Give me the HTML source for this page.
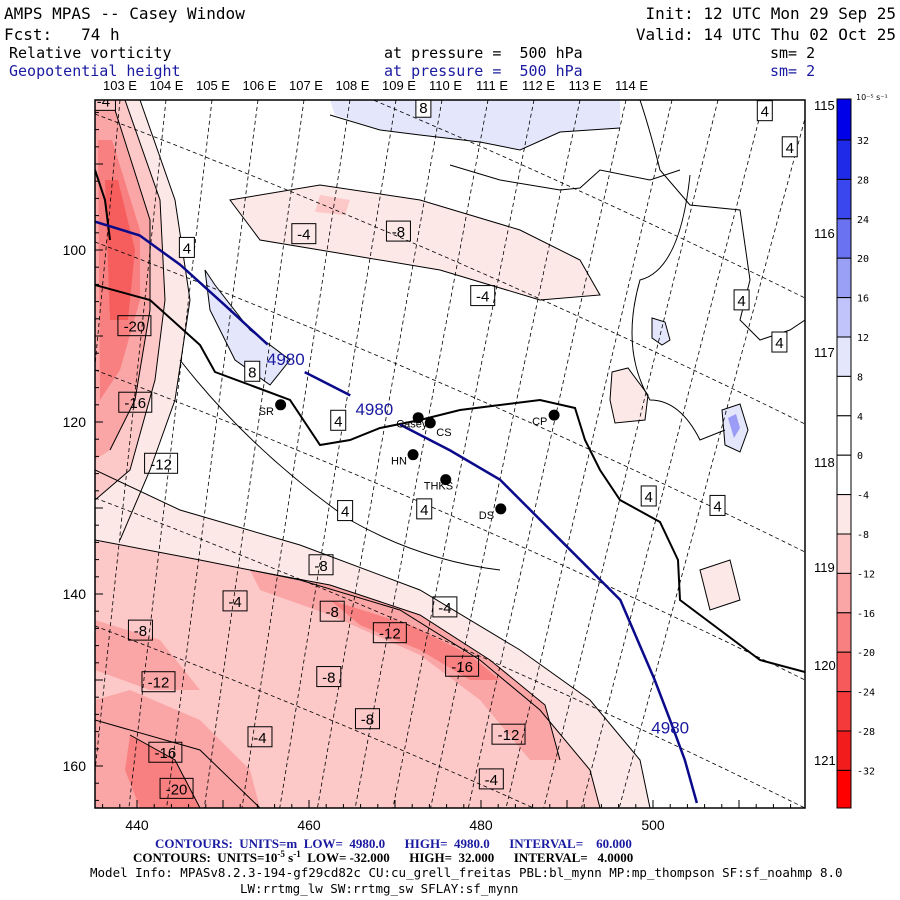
<!DOCTYPE html>
<html><head><meta charset="utf-8"><style>
html,body{margin:0;padding:0;background:#fff;}
svg{display:block;font-family:"DejaVu Sans Mono","Liberation Mono",monospace;}
svg text{white-space:pre;}
.hd{font-family:"DejaVu Sans Mono","Liberation Mono",monospace;font-size:16px;}
.lbl{font-size:15px;font-family:"Liberation Sans",sans-serif;}
</style></head><body>
<svg id="chart" width="900" height="900" viewBox="0 0 900 900">
<defs><clipPath id="plotclip"><rect x="95" y="100" width="710" height="708"/></clipPath></defs>
<g>
<text class="hd" x="4" y="19">AMPS MPAS -- Casey Window</text>
<text class="hd" x="4" y="40">Fcst:   74 h</text>
<text class="hd" x="896" y="19" text-anchor="end">Init: 12 UTC Mon 29 Sep 25</text>
<text class="hd" x="896" y="40" text-anchor="end">Valid: 14 UTC Thu 02 Oct 25</text>
<text class="hd" x="9" y="58" style="font-size:15px">Relative vorticity</text>
<text class="hd" x="384" y="58" style="font-size:15px">at pressure =  500 hPa</text>
<text class="hd" x="770" y="58" style="font-size:15px">sm= 2</text>
<text class="hd" x="9" y="76" style="font-size:15px" fill="#1a1aa0">Geopotential height</text>
<text class="hd" x="384" y="76" style="font-size:15px" fill="#1a1aa0">at pressure =  500 hPa</text>
<text class="hd" x="770" y="76" style="font-size:15px" fill="#1a1aa0">sm= 2</text>
</g>
<g id="toplon"></g>
<g clip-path="url(#plotclip)">
<g>
<path d="M95,470 L180,510 L300,545 L420,590 L520,650 L590,700 L640,760 L650,808 L95,808 Z" fill="#fde8e8"/>
<path d="M95,540 L200,560 L300,580 L400,610 L480,660 L540,710 L590,770 L600,808 L95,808 Z" fill="#fcc8c8"/>
<path d="M250,570 L330,585 L420,615 L490,660 L545,705 L560,760 L530,760 L480,700 L420,655 L330,615 L260,590 Z" fill="#fba6a6"/>
<path d="M330,600 L410,625 L470,655 L500,680 L470,680 L420,650 L360,625 Z" fill="#f98080"/>
<path d="M95,700 L130,690 L200,720 L250,770 L260,808 L95,808 Z" fill="#fba6a6"/>
<path d="M130,735 L175,760 L200,808 L140,808 L125,770 Z" fill="#f98080"/>
<path d="M95,620 L160,640 L200,690 L150,690 L95,670 Z" fill="#fba6a6"/>
<path d="M95,100 L140,100 L175,200 L190,300 L175,400 L150,470 L120,540 L95,540 Z" fill="#fde8e8"/>
<path d="M95,100 L125,100 L160,200 L165,300 L155,380 L130,470 L95,500 Z" fill="#fcc8c8"/>
<path d="M95,110 L115,110 L150,220 L150,310 L135,400 L110,450 L95,460 Z" fill="#fba6a6"/>
<path d="M98,140 L112,140 L140,230 L140,300 L120,370 L100,400 Z" fill="#f98080"/>
<path d="M105,180 L118,180 L135,250 L128,320 L110,320 Z" fill="#f65e5e"/>
<path d="M230,200 L320,185 L420,200 L520,230 L580,260 L600,295 L540,300 L440,270 L350,255 L260,240 Z" fill="#fde8e8"/>
<path d="M320,195 L350,200 L345,215 L315,212 Z" fill="#fcc8c8"/>
<path d="M612,372 L628,368 L648,395 L645,420 L615,423 L610,400 Z" fill="#fde8e8"/>
<path d="M700,570 L730,560 L740,600 L710,610 Z" fill="#fde8e8"/>
<path d="M330,100 L620,100 L620,128 L560,132 L520,150 L480,142 L420,135 L380,130 L335,115 Z" fill="#e4e6fb"/>
<path d="M205,270 L215,285 L250,330 L290,360 L270,385 L235,360 L210,310 Z" fill="#e4e6fb"/>
<path d="M652,318 L665,322 L670,340 L662,345 L652,338 Z" fill="#e4e6fb"/>
<path d="M722,410 L740,404 L748,430 L740,452 L725,445 Z" fill="#e4e6fb"/>
<path d="M728,418 L736,414 L740,428 L734,438 Z" fill="#9a9cf5"/>
</g>
<g fill="none" stroke="#000" stroke-width="1">
<path d="M95,470 L180,510 L300,545 L420,590 L520,650 L590,700 L640,760 L650,808"/>
<path d="M95,540 L200,560 L300,580 L400,610 L480,660 L540,710 L590,770 L600,808"/>
<path d="M250,570 L330,585 L420,615 L490,660 L545,705 L560,760"/>
<path d="M140,100 L175,200 L190,300 L175,400 L150,470 L120,540"/>
<path d="M125,100 L160,200 L165,300 L155,380 L130,470 L95,500"/>
<path d="M115,110 L150,220 L150,310 L135,400 L110,450"/>
<path d="M230,200 L320,185 L420,200 L520,230 L580,260 L600,295 L540,300 L440,270 L350,255 L260,240 Z"/>
<path d="M612,372 L628,368 L648,395 L645,420 L615,423 L610,400 Z"/>
<path d="M700,570 L730,560 L740,600 L710,610 Z"/>
<path d="M205,270 L215,285 L250,330 L290,360 L270,385 L235,360 L210,310 Z"/>
<path d="M330,115 L380,130 L420,135 L480,142 L520,150 L560,132 L620,128"/>
<path d="M450,165 L500,180 L560,190 L580,188 L600,170 L650,180 L680,170"/>
<path d="M640,100 Q650,130 660,170 L690,205 L740,210 L750,280 L740,320 L760,340 L790,330 L805,320"/>
<path d="M690,175 Q680,270 640,280 Q620,350 650,400 Q680,400 700,440 L725,430"/>
<path d="M180,360 Q250,450 350,520 Q420,560 500,570"/>
<path d="M95,720 L200,750 L260,808"/>
<path d="M130,735 L175,760 L200,808"/>
<path d="M722,410 L740,404 L748,430 L740,452 L725,445 Z"/>
<path d="M652,318 L665,322 L670,340 L662,345 L652,338 Z"/>
</g>
<g id="grid" fill="none" stroke="#000" stroke-width="0.8" stroke-dasharray="4,3"></g>
<path fill="none" stroke="#000" stroke-width="2" d="M95,285 L150,300 L200,345 L215,372 L250,385 L290,400 L320,445 L350,440 L380,428 L420,420 L460,410 L500,405 L540,400 L575,408 L585,440 L600,470 L620,500 L660,522 L678,560 L680,600 L720,630 L760,660 L805,672"/>
<path fill="none" stroke="#000" stroke-width="2" d="M95,170 L105,200 L110,240"/>
<g id="geo"></g>
<g id="stations"></g>
<g id="clabels"></g>
</g>
<rect x="95" y="100" width="710" height="708" fill="none" stroke="#000" stroke-width="1.5"/>
<g id="xaxis"></g>
<g id="yaxis"></g>
<g id="rlon"></g>
<g id="cbar"></g>
<g font-family="Liberation Serif, serif" font-size="13" font-weight="bold">
<text x="155" y="848" fill="#1a1aa0">CONTOURS:  UNITS=m  LOW=  4980.0      HIGH=  4980.0      INTERVAL=    60.000</text>
<text x="133" y="862" fill="#000">CONTOURS:  UNITS=10<tspan font-size="9" dy="-5">-5</tspan><tspan dy="5"> s</tspan><tspan font-size="9" dy="-5">-1</tspan><tspan dy="5">  LOW= -32.000      HIGH=  32.000      INTERVAL=   4.0000</tspan></text>
</g>
<text x="90" y="877" font-size="12.5" font-family="DejaVu Sans Mono, monospace">Model Info: MPASv8.2.3-194-gf29cd82c CU:cu_grell_freitas PBL:bl_mynn MP:mp_thompson SF:sf_noahmp 8.0</text>
<text x="240" y="893" font-size="12.5" font-family="DejaVu Sans Mono, monospace">LW:rrtmg_lw SW:rrtmg_sw SFLAY:sf_mynn</text>
</svg>
<script>
const xTicks=[440,460,480,500];
const yTicks=[100,120,140,160];
const geoX=[435.1,440.3,445.0,450.2,455.2,null,459.5,464.8,null,470.6,476.4,482.2,489.2,496.2,500.2,502.0,503.7,505.1];
const geoY=[96.7,98.3,101.7,106.4,111.0,null,114.2,116.9,null,120.3,123.3,126.7,133.7,140.7,150.0,154.7,159.3,164.3];
const geoLabelX=[457.3,467.6,502.0];
const geoLabelY=[112.7,118.5,155.5];
const stationNames=["SR","Casey","CS","HN","THKS","DS","CP"];
const stationX=[456.7,472.7,474.1,472.1,475.9,482.3,488.5];
const stationY=[118.0,119.5,120.1,123.8,126.7,130.1,119.2];
const cLevels=[32,28,24,20,16,12,8,4,0,-4,-8,-12,-16,-20,-24,-28,-32];
const cColors=["#0000e8","#1e2ae8","#3a46ee","#6a72f2","#9aa0f5","#c0c4fa","#e4e6fb","#fff","#fff","#fff","#fde8e8","#fcc8c8","#fba6a6","#f98080","#f65a5a","#f43a3a","#f21c1c","#ff0000"];
const labVals=[-4,4,8,4,4,-4,-8,4,-4,4,-20,4,8,-16,4,-12,4,4,4,4,-8,-4,-8,-4,-8,-12,-16,-8,-12,-8,-12,-4,-16,-4,-20];
const labX=[436.1,454.5,473.3,513.0,515.9,459.4,470.4,445.8,480.2,510.3,439.7,514.7,453.4,439.8,463.4,442.8,499.5,507.5,464.2,473.4,461.4,451.4,462.7,475.8,440.4,469.4,477.8,462.3,442.5,466.8,483.2,454.3,443.3,481.2,444.6];
const labY=[82.6,81.0,83.4,83.8,88.0,98.1,97.8,99.7,105.3,105.8,108.8,110.7,114.1,117.7,119.8,124.8,128.6,129.7,130.3,130.1,136.6,140.8,142.0,141.5,144.2,144.5,148.4,149.6,150.2,154.5,156.3,156.6,158.4,161.5,162.6];
function X(v){return 137+(v-440)*8.6;}
function Y(v){return 250+(v-100)*8.6;}
const NS="http://www.w3.org/2000/svg";
function mk(tag,attrs,parent,txt){const e=document.createElementNS(NS,tag);for(const k in attrs)e.setAttribute(k,attrs[k]);if(txt!==undefined)e.textContent=txt;parent.appendChild(e);return e;}
const grid=document.getElementById('grid');
for(let i=0;i<16;i++){const xt=120+i*46;const l=mk('line',{x1:xt,y1:100,x2:xt*0.82-45,y2:808},grid);

}
const latStart=[-12,114,242,370,498,626];
latStart.forEach(y0=>{const l=mk('path',{d:`M95,${y0} Q450,${y0+135} 805,${y0+310}`},grid);

});
const tl=document.getElementById('toplon');
for(let i=0;i<12;i++){const t=mk('text',{x:120+i*46.5,y:90,'font-size':'13','text-anchor':'middle','font-family':'Liberation Sans, sans-serif'},tl,(103+i)+' E');

}
const geo=document.getElementById('geo');
let segs=[],cur=[];
for(let i=0;i<geoX.length;i++){if(geoX[i]===null){segs.push(cur);cur=[];}else cur.push(X(geoX[i])+','+Y(geoY[i]));}
segs.push(cur);
segs.forEach(s=>{const p=mk('polyline',{points:s.join(' '),fill:'none',stroke:'#0a0a8a','stroke-width':'2.5'},geo);

});
geoLabelX.forEach((v,i)=>{const t=mk('text',{x:X(v),y:Y(geoLabelY[i])+6,'font-size':'17','text-anchor':'middle',fill:'#1a1aa0','font-family':'Liberation Sans, sans-serif'},geo,'4980');

});
const st=document.getElementById('stations');
stationNames.forEach((n,i)=>{const g=mk('g',{},st);


mk('circle',{cx:X(stationX[i]),cy:Y(stationY[i]),r:5.5,fill:'#000'},g);
mk('text',{x:X(stationX[i])-(n==='CS'?-6:22),y:Y(stationY[i])+(n==='CS'?13:10),'font-size':'11','font-family':'Liberation Sans, sans-serif'},g,n);});
const cl=document.getElementById('clabels');
labVals.forEach((v,i)=>{const s=String(v);const w=s.length*9+6;const cx=X(labX[i]),cy=Y(labY[i]);
const g=mk('g',{},cl);


mk('rect',{x:cx-w/2,y:cy-10,width:w,height:20,fill:v<0?'none':'#fff',stroke:'#000','stroke-width':'1'},g);
mk('text',{x:cx,y:cy+6,'text-anchor':'middle','class':'lbl'},g,s);});
const xa=document.getElementById('xaxis');
for(let v=436;v<=516;v+=2){const l=mk('line',{x1:X(v),y1:808,x2:X(v),y2:v%10===0?800:804,stroke:'#000'},xa);
}
xTicks.forEach(v=>{const t=mk('text',{x:X(v),y:830,'text-anchor':'middle','font-size':'14','font-family':'Liberation Sans, sans-serif'},xa,v);
});
const ya=document.getElementById('yaxis');
for(let v=84;v<=164;v+=2){const l=mk('line',{x1:95,y1:Y(v),x2:v%10===0?103:99,y2:Y(v),stroke:'#000'},ya);
}
yTicks.forEach(v=>{const t=mk('text',{x:86,y:Y(v)+5,'text-anchor':'end','font-size':'14','font-family':'Liberation Sans, sans-serif'},ya,v);
});
const cb=document.getElementById('cbar');
const barTop=99,barStep=39.4,barB0=140;
cColors.forEach((c,i)=>{const y1=i===0?barTop:barB0+(i-1)*barStep;const y2=i===cColors.length-1?808:barB0+i*barStep;
const r=mk('rect',{x:837,y:y1,width:14,height:y2-y1,fill:c,stroke:'#000','stroke-width':'1'},cb);
});
cLevels.forEach((v,i)=>{const t=mk('text',{x:857,y:barB0+i*barStep+4,'font-size':'10','font-family':'DejaVu Sans Mono, monospace'},cb,v);
});
const u=mk('text',{x:856,y:100,'font-size':'8','font-family':'DejaVu Sans, sans-serif'},cb,'10⁻⁵ s⁻¹');

const rl=document.getElementById('rlon');
const rY=[105,233,352,462,567,665,760];
rY.forEach((y,i)=>{const t=mk('text',{x:814,y:y+5,'font-size':'13','font-family':'Liberation Sans, sans-serif'},rl,(115+i)+' E');
});
</script>
</body></html>
